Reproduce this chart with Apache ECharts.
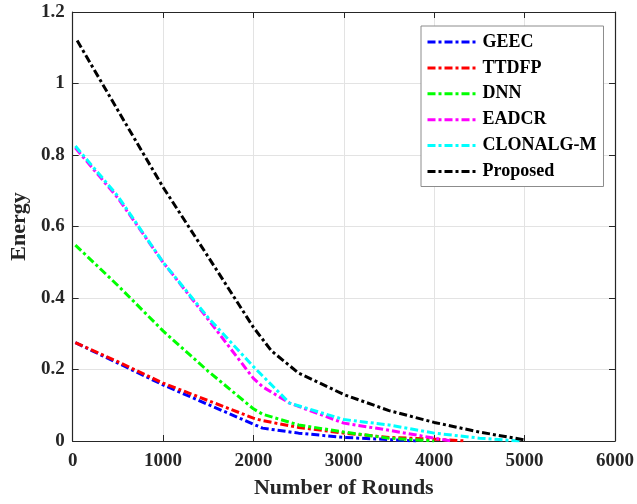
<!DOCTYPE html>
<html>
<head>
<meta charset="utf-8">
<script src="https://cdn.jsdelivr.net/npm/echarts@6/dist/echarts.min.js"></script>
<style>
  html, body { margin: 0; padding: 0; background: #fff; }
  #chart { width: 637px; height: 504px; }
</style>
</head>
<body>
<div id="chart"></div>
<script>
// Energy remaining per method versus number of rounds
const seriesNames = ['GEEC', 'TTDFP', 'DNN', 'EADCR', 'CLONALG-M', 'Proposed'];

const geecRounds = [30, 500, 1000, 1500, 2000, 2100, 2500, 3000, 3500, 3800];
const geecEnergy = [0.275, 0.218, 0.157, 0.102, 0.047, 0.036, 0.022, 0.010, 0.004, 0];

const ttdfpRounds = [30, 500, 1000, 1500, 2000, 2100, 2500, 3000, 3500, 4000, 4350];
const ttdfpEnergy = [0.275, 0.222, 0.162, 0.113, 0.064, 0.057, 0.038, 0.022, 0.010, 0.005, 0];

const dnnRounds = [30, 500, 1000, 1500, 2000, 2100, 2500, 3000, 3500, 4000];
const dnnEnergy = [0.548, 0.435, 0.308, 0.195, 0.090, 0.075, 0.045, 0.025, 0.008, 0];

const eadcrRounds = [30, 500, 1000, 1500, 2000, 2100, 2400, 3000, 3500, 4000, 4200];
const eadcrEnergy = [0.820, 0.680, 0.500, 0.340, 0.175, 0.152, 0.106, 0.050, 0.030, 0.008, 0];

const clonalgRounds = [30, 500, 1000, 1500, 2000, 2400, 3000, 3500, 4000, 4500, 4950];
const clonalgEnergy = [0.825, 0.685, 0.500, 0.345, 0.208, 0.106, 0.060, 0.045, 0.022, 0.008, 0];

const proposedRounds = [50, 500, 1000, 1500, 2000, 2200, 2500, 3000, 3500, 4000, 4500, 5000];
const proposedEnergy = [1.120, 0.925, 0.710, 0.515, 0.318, 0.252, 0.190, 0.130, 0.085, 0.052, 0.025, 0.003];

const xTicks = [0, 1000, 2000, 3000, 4000, 5000, 6000];
const yTicks = [0, 0.2, 0.4, 0.6, 0.8, 1, 1.2];

const lineColors = ['#0000ff', '#ff0000', '#00ff00', '#ff00ff', '#00ffff', '#000000'];
const roundsList = [geecRounds, ttdfpRounds, dnnRounds, eadcrRounds, clonalgRounds, proposedRounds];
const energyList = [geecEnergy, ttdfpEnergy, dnnEnergy, eadcrEnergy, clonalgEnergy, proposedEnergy];

const fontFamily = '"Liberation Serif", "Times New Roman", serif';
const axisColor = '#262626';
const dashDot = [8, 3, 3, 3];

function pairs(xs, ys) {
  return xs.map((x, i) => [x, ys[i]]);
}

function baseAxis(min, max, step, position, showLabels) {
  return {
    type: 'value',
    min: min,
    max: max,
    interval: step,
    position: position,
    axisLine: { show: true, onZero: false, lineStyle: { color: axisColor, width: 1.2 } },
    axisTick: { show: true, inside: true, length: 6, lineStyle: { color: axisColor, width: 1 } },
    axisLabel: {
      show: showLabels,
      color: axisColor,
      fontFamily: fontFamily,
      fontWeight: 'bold',
      fontSize: 19,
      formatter: (v) => String(v)
    },
    splitLine: { show: showLabels, lineStyle: { color: '#e3e3e3', width: 1 } }
  };
}

const xBottom = baseAxis(xTicks[0], xTicks[xTicks.length - 1], xTicks[1] - xTicks[0], 'bottom', true);
xBottom.axisLabel.margin = 11;
xBottom.name = 'Number of Rounds';
xBottom.nameLocation = 'middle';
xBottom.nameGap = 36;
xBottom.nameTextStyle = { color: axisColor, fontFamily: fontFamily, fontWeight: 'bold', fontSize: 22 };

const xTop = baseAxis(xTicks[0], xTicks[xTicks.length - 1], xTicks[1] - xTicks[0], 'top', false);

const yLeft = baseAxis(yTicks[0], yTicks[yTicks.length - 1], yTicks[1] - yTicks[0], 'left', true);
yLeft.axisLabel.margin = 8;
yLeft.name = 'Energy';
yLeft.nameLocation = 'middle';
yLeft.nameGap = 39;
yLeft.nameTextStyle = { color: axisColor, fontFamily: fontFamily, fontWeight: 'bold', fontSize: 22 };

const yRight = baseAxis(yTicks[0], yTicks[yTicks.length - 1], yTicks[1] - yTicks[0], 'right', false);

const chart = echarts.init(document.getElementById('chart'), null, { renderer: 'canvas' });

chart.setOption({
  backgroundColor: '#ffffff',
  animation: false,
  grid: { left: 67, right: 22, top: 12, bottom: 61, containLabel: false },
  xAxis: [xBottom, xTop],
  yAxis: [yLeft, yRight],
  legend: {
    orient: 'vertical',
    left: 421,
    top: 26,
    padding: [7, 7, 6, 5],
    itemWidth: 50,
    itemHeight: 14,
    itemGap: 7.9,
    backgroundColor: '#ffffff',
    borderColor: '#8c8c8c',
    borderWidth: 1,
    data: seriesNames,
    itemStyle: { opacity: 0 },
    lineStyle: { width: 3, type: dashDot },
    textStyle: { color: '#000', fontFamily: fontFamily, fontWeight: 'bold', fontSize: 18, padding: [0, 0, 0, 0] }
  },
  series: seriesNames.map((name, i) => ({
    name: name,
    type: 'line',
    xAxisIndex: 0,
    yAxisIndex: 0,
    data: pairs(roundsList[i], energyList[i]),
    symbol: 'none',
    showSymbol: false,
    color: lineColors[i],
    lineStyle: { color: lineColors[i], width: 3, type: dashDot, cap: 'butt' },
    emphasis: { disabled: true }
  }))
});
</script>
</body>
</html>
